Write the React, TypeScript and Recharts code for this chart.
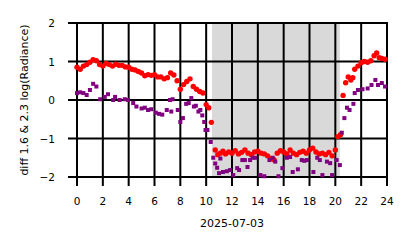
import React from 'react';
import { ScatterChart, Scatter, XAxis, YAxis, ReferenceArea } from 'recharts';

const redHours = [
  0.0, 0.25, 0.5, 0.75, 1.0, 1.25, 1.5, 1.75, 2.0, 2.25, 2.5, 2.75, 3.0, 3.25, 3.5, 3.75,
  4.0, 4.25, 4.5, 4.75, 5.0, 5.25, 5.5, 5.75, 6.0, 6.25, 6.5, 6.75, 7.0, 7.25, 7.5, 7.75,
  8.0, 8.25, 8.5, 8.75, 9.0, 9.25, 9.5, 9.75, 10.0, 10.2, 10.4,
  10.7, 10.9, 11.1, 11.3, 11.5, 11.75, 12.0, 12.25, 12.5, 12.75, 13.0, 13.25, 13.5, 13.75,
  14.0, 14.25, 14.5, 14.75, 15.0, 15.25, 15.5, 15.75, 16.0, 16.25, 16.5, 16.75, 17.0, 17.25,
  17.5, 17.75, 18.0, 18.25, 18.5, 18.75, 19.0, 19.25, 19.5, 19.75, 20.0, 20.2, 20.4,
  20.6, 20.8, 21.0, 21.2, 21.35, 21.5, 21.75, 22.0, 22.25, 22.5, 22.75, 23.0, 23.2, 23.4, 23.6, 23.85,
];
const redValues = [
  0.85, 0.8, 0.88, 0.92, 0.98, 1.05, 1.02, 0.92, 0.88, 0.95, 0.92, 0.88, 0.93, 0.9, 0.9, 0.86,
  0.85, 0.8, 0.78, 0.74, 0.7, 0.63, 0.66, 0.64, 0.66, 0.6, 0.6, 0.55, 0.58, 0.7, 0.65, 0.5,
  0.28, 0.4, 0.48, 0.55, 0.35, 0.28, 0.22, 0.18, -0.12, -0.2, -0.58,
  -1.3, -1.42, -1.38, -1.33, -1.4, -1.35, -1.38, -1.32, -1.4, -1.36, -1.3, -1.38, -1.42, -1.35,
  -1.33, -1.38, -1.4, -1.45, -1.52, -1.55, -1.38, -1.32, -1.35, -1.4, -1.3, -1.38, -1.42, -1.36,
  -1.33, -1.38, -1.3, -1.25, -1.35, -1.4, -1.38, -1.42, -1.36, -1.45, -1.3, -0.95, -0.9,
  0.12, 0.45, 0.6, 0.52, 0.58, 0.8, 0.88, 0.97, 1.0, 0.98, 1.02, 1.15, 1.22, 1.1, 1.08, 1.06,
];

const purpleHours = [
  0.0, 0.25, 0.5, 0.75, 1.0, 1.25, 1.5, 1.8, 2.15, 2.4, 2.8, 2.95, 3.3, 3.7, 3.95, 4.35,
  4.6, 5.0, 5.25, 5.5, 5.75, 6.1, 6.35, 6.6, 6.95, 7.2, 7.3, 7.4, 7.8, 8.0, 8.2, 8.45,
  8.65, 8.85, 9.05, 9.2, 9.4, 9.55, 9.7, 9.85, 9.95, 10.1, 10.35, 10.55, 10.7, 10.85,
  11.0, 11.1, 11.3, 11.6, 11.85, 12.1, 12.4, 12.55, 12.8, 13.0, 13.2, 13.4, 13.6, 13.8,
  14.2, 14.5, 14.9, 15.15, 15.35, 15.6, 15.9, 16.25, 16.5, 16.7, 17.1, 17.4, 17.6, 17.8,
  18.3, 18.6, 18.8, 19.0, 19.35, 19.6, 19.75, 20.1, 20.35, 20.5, 20.7, 20.9, 21.1, 21.4,
  21.5, 21.75, 22.1, 22.5, 22.8, 23.1, 23.3, 23.6, 23.85,
];
const purpleValues = [
  0.18, 0.2, 0.18, 0.13, 0.26, 0.42, 0.35, 0.02, 0.08, 0.15, 0.0, 0.08, 0.0, 0.02, 0.0, -0.08,
  -0.17, -0.22, -0.2, -0.26, -0.24, -0.33, -0.36, -0.38, -0.26, 0.0, -0.3, 0.02, -0.26, -0.57, -0.47, -0.1,
  -0.08, 0.05, -0.17, -0.15, -0.3, -0.26, -0.4, -0.57, -0.78, -0.78, -1.09, -1.5, -1.65, -1.76,
  -1.9, -1.52, -1.87, -1.85, -1.82, -1.95, -1.77, -1.82, -1.56, -1.56, -1.74, -1.56, -1.5, -1.5,
  -1.95, -1.98, -1.56, -1.5, -1.6, -1.98, -1.77, -1.5, -1.48, -1.87, -1.8, -1.56, -1.58, -1.56,
  -1.87, -1.5, -1.56, -1.95, -1.6, -1.64, -1.95, -1.56, -1.69, -0.85, -0.47, -0.2, -0.26, -0.1,
  0.18, 0.26, 0.28, 0.3, 0.39, 0.52, 0.39, 0.44, 0.35,
];

const xTicks = [0, 2, 4, 6, 8, 10, 12, 14, 16, 18, 20, 22, 24];
const yTicks = [-2, -1, 0, 1, 2];
const nightStart = 10.45;
const nightEnd = 20.35;
const xTitle = '2025-07-03';
const yTitle = 'diff 1.6 & 2.3  log(Radiance)';

const redData = redHours.map((h, i) => ({ h, v: redValues[i] }));
const purpleData = purpleHours.map((h, i) => ({ h, v: purpleValues[i] }));

const FONT = 'DejaVu Sans, sans-serif';
const TICK_LEN = 9;

const RedMark = (p: any) => <circle cx={p.cx} cy={p.cy} r={2.7} fill="#ff0000" />;
const PurpleMark = (p: any) => <rect x={p.cx - 2} y={p.cy - 2} width={4} height={4} fill="#800080" />;

const fmt = (v: number) => (v < 0 ? '\u2212' + Math.abs(v) : String(v));

const XTick = (p: any) => (
  <g>
    <text x={p.x} y={p.y + 22} textAnchor="middle" fill="#000" fontSize={10.5} fontFamily={FONT}>
      {p.payload.value}
    </text>
  </g>
);

const YTick = (p: any) => (
  <g>
    <text x={p.x - 16} y={p.y} textAnchor="end" dominantBaseline="central" fill="#000" fontSize={10.5} fontFamily={FONT}>
      {fmt(p.payload.value)}
    </text>
  </g>
);

// vertical grid line (zero-width area), extended below the plot as the outward tick mark
const VBar = (p: any) => (
  <rect x={p.x + p.width / 2 - 1} y={p.y - 1} width={2} height={p.height + 1 + TICK_LEN} fill="#000" />
);

// horizontal grid line (zero-height area), extended left of the plot as the outward tick mark
const HBar = (p: any) => (
  <rect x={p.x - TICK_LEN} y={p.y + p.height / 2 - 1} width={p.width + 1 + TICK_LEN} height={2} fill="#000" />
);

export default function App() {
  return (
    <div style={{ position: 'absolute', left: 0, top: 0, width: 414, height: 248, background: '#fff' }}>
      <ScatterChart width={414} height={248} margin={{ top: 23, right: 27, left: 0, bottom: 0 }}>
        <XAxis
          type="number"
          dataKey="h"
          domain={[0, 24]}
          ticks={xTicks}
          interval={0}
          height={71}
          tickMargin={0}
          axisLine={false}
          tickLine={false}
          tick={<XTick />}
          label={{ value: xTitle, position: 'insideTop', offset: 42, fill: '#000', fontSize: 11, fontFamily: FONT }}
        />
        <YAxis
          type="number"
          dataKey="v"
          domain={[-2, 2]}
          ticks={yTicks}
          interval={0}
          width={77}
          tickMargin={0}
          axisLine={false}
          tickLine={false}
          tick={<YTick />}
          label={{ value: yTitle, angle: -90, position: 'center', dx: -14, fill: '#000', fontSize: 11, fontFamily: FONT }}
        />
        <Scatter data={redData} shape={RedMark} isAnimationActive={false} />
        <Scatter data={purpleData} shape={PurpleMark} isAnimationActive={false} />
        <ReferenceArea x1={nightStart} x2={nightEnd} fill="#808080" fillOpacity={0.3} stroke="none" />
        {xTicks.map((t) => (
          <ReferenceArea key={'gx' + t} x1={t} x2={t} ifOverflow="visible" shape={VBar} />
        ))}
        {yTicks.map((t) => (
          <ReferenceArea key={'gy' + t} y1={t} y2={t} ifOverflow="visible" shape={HBar} />
        ))}
      </ScatterChart>
    </div>
  );
}
